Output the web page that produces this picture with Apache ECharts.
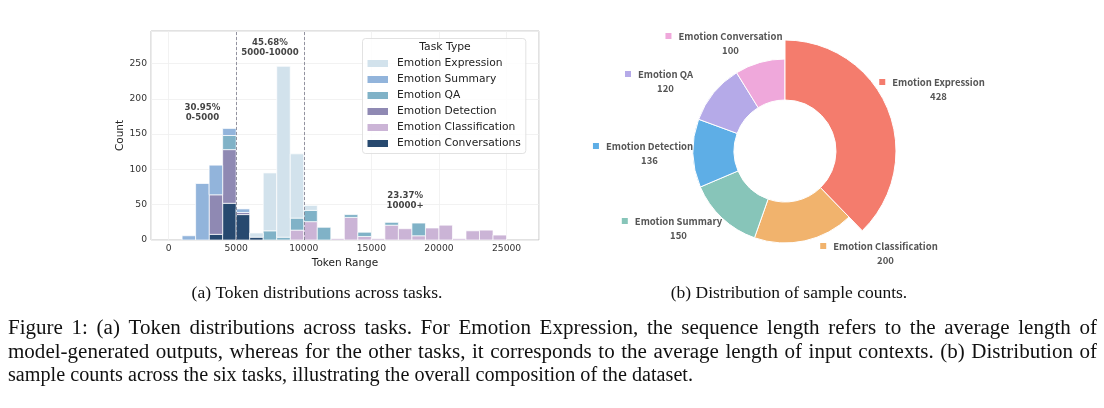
<!DOCTYPE html>
<html><head><meta charset="utf-8">
<script src="https://cdn.jsdelivr.net/npm/echarts@6/dist/echarts.min.js"></script>
<style>html,body{margin:0;padding:0;background:#fff}#c{width:1104px;height:408px}</style>
</head><body><div id="c"></div>
<script>
// ---------------- data: histogram (a) ----------------
const TASKS = ['Emotion Expression','Emotion Summary','Emotion QA','Emotion Detection','Emotion Classification','Emotion Conversations'];
const BIN_STARTS = [1000,2000,3000,4000,5000,6000,7000,8000,9000,10000,11000,12000,13000,14000,15000,16000,17000,18000,19000,20000,21000,22000,23000,24000];
const BIN_WIDTH = 1000;
const EXPRESSION     = [0,0,0,0,0,6,82,242,91,7,0,0,0,0,0,0,0,0,0,0,0,0,0,0];
const SUMMARY        = [6,80,42,10,5,0,0,0,0,0,0,0,0,0,0,0,0,0,0,0,0,0,0,0];
const QA             = [0,0,0,20,0,0,13,4,17,16,18,0,4,6,0,4,0,18,0,0,0,0,0,0];
const DETECTION      = [0,0,56,76,3,0,0,0,0,0,0,0,0,0,0,0,0,0,0,0,0,0,0,0];
const CLASSIFICATION = [0,0,0,0,0,0,0,0,14,26,0,2,32,5,2,21,16,6,17,21,2,13,14,7];
const CONVERSATIONS  = [0,0,8,52,36,4,0,0,0,0,0,0,0,0,0,0,0,0,0,0,0,0,0,0];
const X_TICKS = [0,5000,10000,15000,20000,25000];
const RANGE_SPLITS = [5000,10000];
const RANGE_LABELS = [['30.95%','0-5000'],['45.68%','5000-10000'],['23.37%','10000+']];
const RANGE_LABEL_AT = [[2500,180],[7500,272],[17500,55]];

// ---------------- data: donut (b) ----------------
const PIE_NAMES = ['Emotion Expression','Emotion Classification','Emotion Summary','Emotion Detection','Emotion QA','Emotion Conversation'];
const PIE_VALUES = [428,200,150,136,120,100];

// ---------------- texts ----------------
const SUB_A = '(a) Token distributions across tasks.';
const SUB_B = '(b) Distribution of sample counts.';
const CAPTION = [
 'Figure 1: (a) Token distributions across tasks. For Emotion Expression, the sequence length refers to the average length of',
 'model-generated outputs, whereas for the other tasks, it corresponds to the average length of input contexts. (b) Distribution of',
 'sample counts across the six tasks, illustrating the overall composition of the dataset.'
];

// ---------------- styles ----------------
const TASK_COLORS = ['#d2e2ec','#92b4db','#80b2c7','#8f89b3','#cbb4d6','#27496f'];
const PIE_COLORS = ['#F47C6D','#F1B36D','#87C5B9','#5EAEE6','#B5AAE8','#EFA8DB'];
const PIE_CENTER = [785,151];
const PIE_LABEL_OFFSET = [[147,-62],[94,102],[-113,77],[-142,2],[-126,-70],[-61,-108]];
const SANS = 'DejaVu Sans';
const SERIF = 'Liberation Serif';

const TASK_VALUES = [EXPRESSION, SUMMARY, QA, DETECTION, CLASSIFICATION, CONVERSATIONS];
// seaborn stacking: last hue at the bottom
const STACK_ORDER = [5,4,3,2,1,0];

const chart = echarts.init(document.getElementById('c'), null, {renderer:'canvas'});

const base = BIN_STARTS.map(()=>0);
const barSeries = [];
STACK_ORDER.forEach(ti=>{
  const vals = TASK_VALUES[ti];
  const data = [];
  vals.forEach((v,i)=>{ if(v>0) data.push([BIN_STARTS[i], v, base[i]]); base[i]+=v; });
  const color = TASK_COLORS[ti];
  barSeries.push({
    type:'custom', name:TASKS[ti], xAxisIndex:0, yAxisIndex:0,
    itemStyle:{color}, encode:{x:0,y:1}, clip:true,
    renderItem:function(params, api){
      const x0 = api.value(0), v = api.value(1), b = api.value(2);
      const p0 = api.coord([x0, b]);
      const p1 = api.coord([x0 + BIN_WIDTH, b + v]);
      return {type:'rect', shape:{x:p0[0], y:p1[1], width:p1[0]-p0[0], height:p0[1]-p1[1]},
        style:{fill:color, stroke:'#ffffff', lineWidth:0.7}};
    },
    data
  });
});

// annotation + dashed range lines
barSeries.push({
  type:'scatter', symbolSize:0, silent:true, xAxisIndex:0, yAxisIndex:0,
  data: RANGE_LABEL_AT,
  label:{show:true, position:'inside', formatter:p=>RANGE_LABELS[p.dataIndex].join('\n'),
    fontFamily:SANS, fontWeight:'bold', fontSize:8.6, lineHeight:10, color:'#111'},
  markLine:{silent:true, symbol:['none','none'], label:{show:false},
    lineStyle:{type:[3,2], color:'#7a7a8a', width:0.8},
    data: RANGE_SPLITS.map(x=>({xAxis:x}))}
});

// pie
const rich = {
  name:{fontFamily:'Noto Sans CJK SC', fontWeight:'bold', fontSize:9.5, color:'#555', padding:[0,0,0,7]},
  value:{fontFamily:'Noto Sans CJK SC', fontWeight:'bold', fontSize:9.5, color:'#555', align:'center', padding:[0,0,0,13], lineHeight:14}
};
PIE_COLORS.forEach((c,i)=>{ rich['i'+i] = {width:6, height:6, backgroundColor:c}; });

const pieMain = {
  type:'pie', center:PIE_CENTER, radius:[51,92], startAngle:90, clockwise:true,
  avoidLabelOverlap:false, silent:true,
  itemStyle:{borderColor:'#fff', borderWidth:1},
  label:{show:true, position:'outside', formatter:p=>`{i${p.dataIndex}|}{name|${p.name}}\n{value|${p.value}}`, rich, lineHeight:14},
  labelLine:{show:false},
  labelLayout:function(p){
    const o = PIE_LABEL_OFFSET[p.dataIndex];
    return {x:PIE_CENTER[0]+o[0], y:PIE_CENTER[1]+o[1], align:'center', verticalAlign:'middle'};
  },
  data: PIE_NAMES.map((n,i)=>({name:n, value:PIE_VALUES[i], itemStyle:{color:PIE_COLORS[i]}}))
};
const pieFocus = {
  type:'pie', center:PIE_CENTER, radius:[51,111], startAngle:90, clockwise:true, silent:true,
  label:{show:false}, labelLine:{show:false},
  data: PIE_NAMES.map((n,i)=>({name:n+' ', value:PIE_VALUES[i],
    itemStyle: i===0 ? {color:PIE_COLORS[0], borderColor:'#fff', borderWidth:1} : {color:'rgba(0,0,0,0)', borderWidth:0}}))
};

// caption text layout (measured)
const cv = document.createElement('canvas').getContext('2d');
function mw(s, fs){ cv.font = fs+'px "'+SERIF+'"'; return cv.measureText(s).width; }
const subFs = 100*251/mw(SUB_A,100);
const capFs = 0.5*(100*685/mw(CAPTION[2],100) + 100*1070/mw(CAPTION[0],100));
const graphics = [];
graphics.push({type:'text', x:445, y:47, style:{text:'Task Type', fontFamily:SANS, fontSize:10.8, fill:'#222', align:'center', verticalAlign:'middle'}, z:100});
graphics.push({type:'text', x:317, y:293, style:{text:SUB_A, fontFamily:SERIF, fontSize:subFs, fill:'#111', align:'center', verticalAlign:'middle'}});
graphics.push({type:'text', x:789, y:293, style:{text:SUB_B, fontFamily:SERIF, fontSize:subFs, fill:'#111', align:'center', verticalAlign:'middle'}});
const CAP_Y = [328,352,375];
const CAP_L = 8, CAP_R = 1097, LAST_W = 685;
CAPTION.forEach((line, li)=>{
  if (li < 2) {
    const words = line.split(' ');
    const ws = words.map(w=>mw(w,capFs));
    const total = ws.reduce((a,b)=>a+b,0);
    const gap = (CAP_R-CAP_L-total)/(words.length-1);
    let x = CAP_L;
    words.forEach((w,k)=>{
      graphics.push({type:'text', x:x, y:CAP_Y[li], style:{text:w, fontFamily:SERIF, fontSize:capFs, fill:'#111', align:'left', verticalAlign:'middle'}});
      x += ws[k]+gap;
    });
  } else {
    const sx = LAST_W / mw(line, capFs);
    graphics.push({type:'text', x:CAP_L, y:CAP_Y[li], scaleX:sx, style:{text:line, fontFamily:SERIF, fontSize:capFs, fill:'#111', align:'left', verticalAlign:'middle'}});
  }
});

const plain = v => String(v);

chart.setOption({
  animation:false,
  backgroundColor:'#ffffff',
  textStyle:{fontFamily:SANS},
  grid:[{left:151, top:31, width:388, height:209, show:true, borderColor:'#c4c4c4', borderWidth:1, backgroundColor:'#fff', containLabel:false, outerBoundsMode:'none'}],
  xAxis:[{type:'value', min:-1300, max:27400, gridIndex:0,
    name:'Token Range', nameLocation:'middle', nameGap:16,
    nameTextStyle:{fontFamily:SANS, fontSize:10.5, color:'#222'},
    axisLine:{show:false}, axisTick:{show:false},
    axisLabel:{customValues:X_TICKS, formatter:plain, fontFamily:SANS, fontSize:9.2, color:'#333', margin:4},
    splitLine:{show:true, lineStyle:{color:'#efefef', width:0.8}}}],
  yAxis:[{type:'value', min:0, max:296, interval:50, gridIndex:0,
    name:'Count', nameLocation:'middle', nameGap:23, nameRotate:90,
    nameTextStyle:{fontFamily:SANS, fontSize:10.5, color:'#222'},
    axisLine:{show:false}, axisTick:{show:false},
    axisLabel:{formatter:plain, fontFamily:SANS, fontSize:9.2, color:'#333', margin:4, showMaxLabel:false},
    splitLine:{show:true, lineStyle:{color:'#efefef', width:0.8}}}],
  legend:{show:true, orient:'vertical', left:362.5, top:38.5,
    padding:[17,5,2,5], itemGap:0, itemWidth:20.5, itemHeight:7, icon:'rect',
    backgroundColor:'rgba(255,255,255,0.85)', borderColor:'#dadada', borderWidth:0.8, borderRadius:3,
    textStyle:{fontFamily:SANS, fontSize:10.7, color:'#222', lineHeight:16, padding:[0,0,0,4]},
    selectedMode:false,
    data: TASKS.map(n=>({name:n, icon:'rect'}))},
  series:[...barSeries, pieMain, pieFocus],
  graphic: graphics
});
</script>
</body></html>
